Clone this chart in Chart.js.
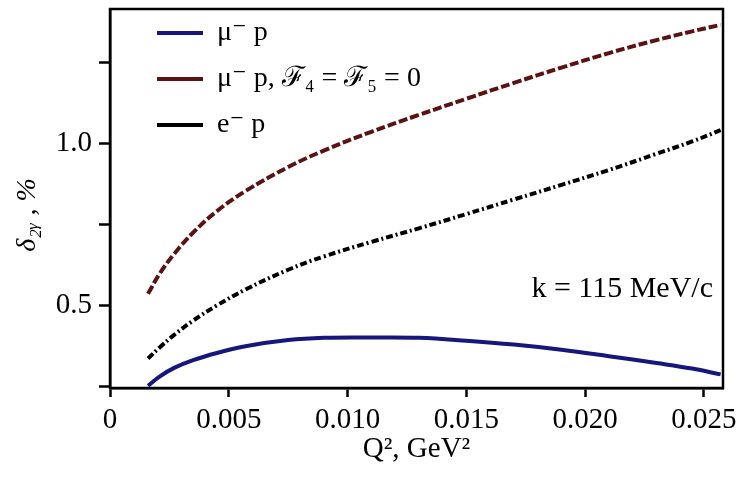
<!DOCTYPE html>
<html>
<head>
<meta charset="utf-8">
<script src="https://cdn.jsdelivr.net/npm/chart.js@4"></script>
<style>
  html, body { margin: 0; padding: 0; background: #fff; }
  #wrap { width: 739px; height: 478px; }
</style>
</head>
<body>
<div id="wrap"><canvas id="myChart"></canvas></div>
<script>
// Q^2 grid, GeV^2
const q2Values = [0.0016, 0.0021, 0.0027, 0.0035, 0.0045, 0.0057, 0.0075, 0.009, 0.011, 0.013, 0.015, 0.017, 0.019, 0.021, 0.023, 0.0245, 0.0257];
// delta_2gamma, %
const muP      = [0.251, 0.280, 0.306, 0.330, 0.352, 0.373, 0.392, 0.399, 0.400, 0.399, 0.390, 0.378, 0.362, 0.342, 0.321, 0.304, 0.286];
const muPNoF45 = [0.535, 0.598, 0.658, 0.724, 0.790, 0.852, 0.926, 0.977, 1.035, 1.087, 1.137, 1.186, 1.233, 1.278, 1.318, 1.345, 1.365];
const eP       = [0.335, 0.370, 0.408, 0.452, 0.499, 0.548, 0.609, 0.650, 0.695, 0.737, 0.781, 0.826, 0.871, 0.917, 0.967, 1.005, 1.040];

const seriesLabels = ["\u03bc\u207b p", "\u03bc\u207b p, \u2131\u2084 = \u2131\u2085 = 0", "e\u207b p"];
const xTicks = [0, 0.0025, 0.005, 0.0075, 0.010, 0.0125, 0.015, 0.0175, 0.020, 0.0225, 0.025];
const yTicks = [0.25, 0.5, 0.75, 1.0, 1.25];

const serif = "'Liberation Serif', 'DejaVu Serif', serif";

function pts(ys) {
	return q2Values.map((x, i) => ({ x: x, y: ys[i] }));
}

// frame, y title and the k note
const extras = {
	id: 'extras',
	afterLayout(chart) {
		const lg = chart.legend;
		lg.left = 139;
		lg.top = 1;
	},
	afterDraw(chart) {
		const { ctx, chartArea } = chart;
		ctx.save();
		ctx.strokeStyle = '#000';
		ctx.lineWidth = 2.5;
		ctx.strokeRect(chartArea.left, chartArea.top, chartArea.right - chartArea.left, chartArea.bottom - chartArea.top);
		ctx.fillStyle = '#000';
		ctx.font = "30px " + serif;
		ctx.textAlign = 'right';
		ctx.textBaseline = 'alphabetic';
		ctx.fillText('k = 115 MeV/c', 713, 297);

		ctx.translate(28, 215);
		ctx.rotate(-Math.PI / 2);
		ctx.textAlign = 'center';
		ctx.textBaseline = 'middle';
		ctx.font = "italic 28px " + serif;
		ctx.fillText('\u03b4\u2082\u1d67 , %', 0, 0);
		ctx.restore();
	}
};

const ctx = document.getElementById('myChart');

new Chart(ctx, {
	type: 'line',
	data: {
		datasets: [
			{
				label: seriesLabels[0],
				data: pts(muP),
				borderColor: '#16167c',
				backgroundColor: '#16167c',
				borderWidth: 4,
				pointRadius: 0
			},
			{
				label: seriesLabels[1],
				data: pts(muPNoF45),
				borderColor: '#5a1212',
				backgroundColor: '#5a1212',
				borderWidth: 4,
				borderDash: [9, 3],
				pointRadius: 0
			},
			{
				label: seriesLabels[2],
				data: pts(eP),
				borderColor: '#000',
				backgroundColor: '#000',
				borderWidth: 4,
				borderDash: [7, 3, 2, 3],
				pointRadius: 0
			}
		]
	},
	options: {
		responsive: true,
		maintainAspectRatio: false,
		animation: false,
		tension: 0.4,
		layout: { padding: { left: 0, right: 16, top: 9, bottom: 11 } },
		plugins: {
			tooltip: { enabled: false },
			legend: {
				position: 'chartArea',
				align: 'start',
				labels: {
					usePointStyle: true,
					pointStyle: 'line',
					pointStyleWidth: 46,
					color: '#000',
					padding: 18,
					font: { family: serif, size: 28 }
				}
			}
		},
		scales: {
			x: {
				type: 'linear',
				min: 0,
				max: 0.0258,
				afterBuildTicks: s => { s.ticks = xTicks.map(v => ({ value: v })); },
				afterFit: s => { s.height = 79; s.paddingLeft = 0; s.paddingRight = 0; },
				border: { color: '#000', width: 2.5 },
				grid: { drawOnChartArea: false, drawTicks: true, tickLength: 9, tickColor: '#000', tickWidth: 2.5 },
				ticks: {
					color: '#000',
					padding: 6,
					maxRotation: 0,
					font: { family: serif, size: 29 },
					callback: v => {
						if (v === 0) return '0';
						const k = Math.round(v / 0.0025);
						return k % 2 === 0 ? v.toFixed(3) : '';
					}
				},
				title: {
					display: true,
					text: 'Q\u00b2, GeV\u00b2',
					color: '#000',
					padding: { top: 0, bottom: 0 },
					font: { family: serif, size: 29 }
				}
			},
			y: {
				type: 'linear',
				min: 0.244,
				max: 1.414,
				afterBuildTicks: s => { s.ticks = yTicks.map(v => ({ value: v })); },
				afterFit: s => { s.width = 110; s.paddingTop = 0; s.paddingBottom = 0; },
				border: { color: '#000', width: 2.5 },
				grid: { drawOnChartArea: false, drawTicks: true, tickLength: 11, tickColor: '#000', tickWidth: 2.5 },
				ticks: {
					color: '#000',
					padding: 7,
					font: { family: serif, size: 29 },
					callback: v => (Math.round(v * 4) % 2 === 0 ? v.toFixed(1) : '')
				}
			}
		}
	},
	plugins: [extras]
});
</script>
</body>
</html>
